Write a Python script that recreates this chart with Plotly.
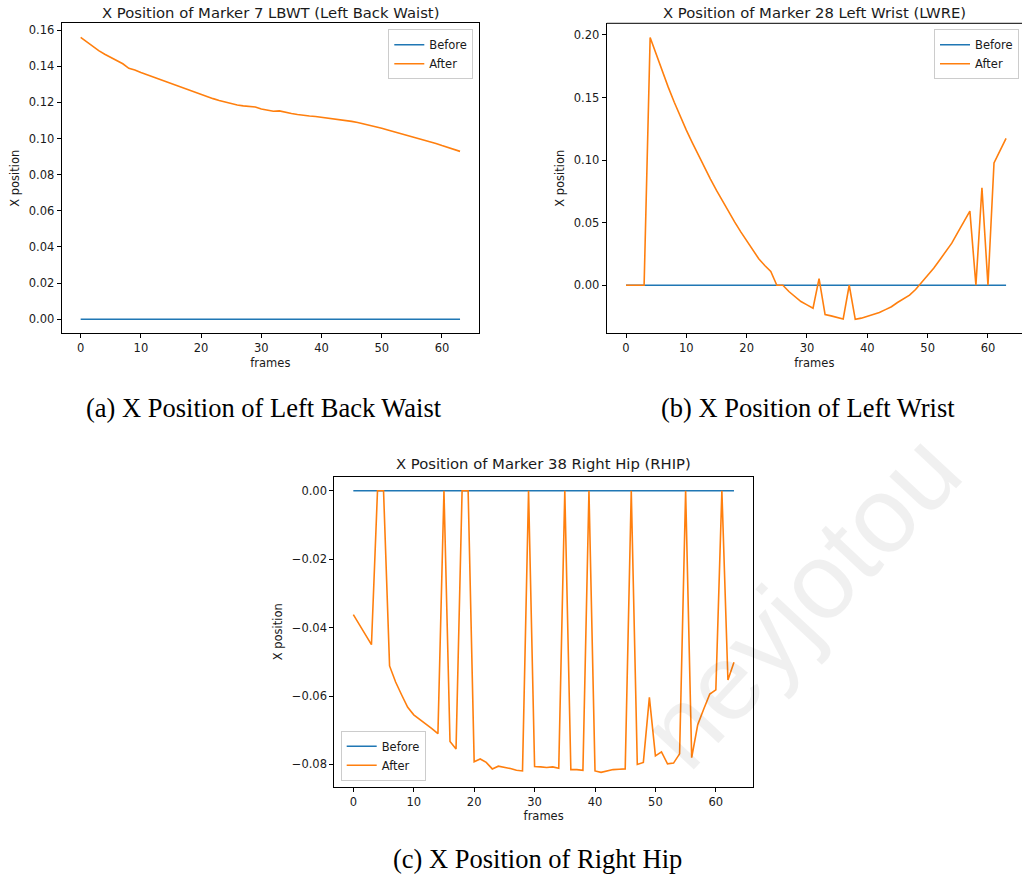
import plotly.graph_objects as go

frames = list(range(64))

before_a = [0.0] * 64
after_a = [0.1560, 0.1534, 0.1509, 0.1487, 0.1467, 0.1448, 0.1431, 0.1414, 0.1389, 0.1380,
           0.1366, 0.1354, 0.1342, 0.1328, 0.1315, 0.1302, 0.1292, 0.1278, 0.1266, 0.1255,
           0.1243, 0.1231, 0.1221, 0.1211, 0.1202, 0.1193, 0.1186, 0.1181, 0.1177, 0.1175,
           0.1164, 0.1158, 0.1151, 0.1153, 0.1144, 0.1139, 0.1133, 0.1127, 0.1125, 0.1122,
           0.1118, 0.1113, 0.1111, 0.1106, 0.1100, 0.1095, 0.1089, 0.1082, 0.1074, 0.1066,
           0.1057, 0.1047, 0.1038, 0.1031, 0.1022, 0.1013, 0.1004, 0.0994, 0.0984, 0.0973,
           0.0961, 0.0950, 0.0938, 0.0929]

before_b = [0.0] * 64
after_b = [0.0, 0.0, 0.0, 0.0, 0.198, 0.1845, 0.1713, 0.1583, 0.1462, 0.1347,
           0.1240, 0.1138, 0.1038, 0.0940, 0.0848, 0.0758, 0.0670, 0.0587, 0.0506, 0.0428,
           0.0355, 0.0280, 0.0212, 0.0158, 0.011, 0.0, 0.0, -0.005, -0.009, -0.013,
           -0.0157, -0.0184, 0.0053, -0.0234, -0.0245, -0.0255, -0.0269, 0.0, -0.0272, -0.0263,
           -0.025, -0.0237, -0.0218, -0.0195, -0.0172, -0.0138, -0.0108, -0.0079, -0.0034, 0.002,
           0.0074, 0.0136, 0.0202, 0.0269, 0.0336, 0.0422, 0.0505, 0.0592, 0.0, 0.0779,
           0.0, 0.0978, 0.1075, 0.1173]

before_c = [0.0] * 64
after_c = [-0.0362, -0.039, -0.0418, -0.045, 0.0, 0.0, -0.0512, -0.0559, -0.0597, -0.0633,
           -0.0655, -0.0668, -0.068, -0.0695, -0.071, 0.0, -0.0733, -0.0755, 0.0, 0.0,
           -0.0792, -0.0784, -0.0794, -0.0813, -0.0805, -0.0808, -0.0812, -0.0817, -0.0819, 0.0,
           -0.0806, -0.0807, -0.0809, -0.0807, -0.0811, 0.0, -0.0815, -0.0815, -0.0817, 0.0,
           -0.0819, -0.0823, -0.0818, -0.0815, -0.0814, -0.0813, 0.0, -0.080, -0.0794, -0.0604,
           -0.0775, -0.0763, -0.0798, -0.0796, -0.0769, 0.0, -0.078, -0.0684, -0.0638, -0.0594,
           -0.0582, 0.0, -0.0553, -0.0501]

titles = ["X Position of Marker 7 LBWT (Left Back Waist)",
          "X Position of Marker 28 Left Wrist (LWRE)",
          "X Position of Marker 38 Right Hip (RHIP)"]
captions = ["(a) X Position of Left Back Waist",
            "(b) X Position of Left Wrist",
            "(c) X Position of Right Hip"]
series_names = ["Before", "After"]
x_label = "frames"
y_label = "X position"

W, H = 1022, 877
BLUE, ORANGE = "#1f77b4", "#ff7f0e"
TXT = "#1a1a1a"

def px(x):
    return x / W

def py(y):
    return 1 - y / H

# panel pixel boxes (left, right, top, bottom)
boxes = [(61.7, 479.0, 23.3, 333.3), (606.7, 1022.0, 23.3, 333.3), (334.3, 753.0, 476.7, 786.7)]
xranges = [[-3.15, 66.15], [-3.2, 65.64], [-3.15, 66.15]]
yranges = [[-0.0078, 0.1638], [-0.0384, 0.2093], [-0.0865, 0.0041]]
ydtick = [0.02, 0.05, 0.02]

fig = go.Figure()
data = [(before_a, after_a), (before_b, after_b), (before_c, after_c)]
legends = ["legend", "legend2", "legend3"]
for i, (bef, aft) in enumerate(data):
    suffix = "" if i == 0 else str(i + 1)
    for name, vals, col in [(series_names[0], bef, BLUE), (series_names[1], aft, ORANGE)]:
        fig.add_trace(go.Scatter(x=frames, y=vals, mode="lines", name=name,
                                 line=dict(color=col, width=1.6),
                                 xaxis="x" + suffix, yaxis="y" + suffix,
                                 legend=legends[i], showlegend=True))

axis_common = dict(showline=True, linecolor="black", linewidth=1, ticks="outside",
                   ticklen=4, tickwidth=1, tickcolor="black", showgrid=False, zeroline=False,
                   tickfont=dict(family="DejaVu Sans", size=11.5, color=TXT))
layout = dict(width=W, height=H, margin=dict(l=0, r=0, t=0, b=0),
              plot_bgcolor="white", paper_bgcolor="white", showlegend=True)
for i, (l, r, t, b) in enumerate(boxes):
    suffix = "" if i == 0 else str(i + 1)
    xa = dict(axis_common, domain=[px(l), px(r)], range=xranges[i], dtick=10, tick0=0,
              anchor="y" + suffix, mirror=(i != 1),
              title=dict(text=x_label, font=dict(family="DejaVu Sans", size=11.5, color=TXT), standoff=4))
    ya = dict(axis_common, domain=[py(b), py(t)], range=yranges[i], dtick=ydtick[i], tick0=0,
              tickformat=".2f", anchor="x" + suffix, mirror=True,
              title=dict(text=y_label, font=dict(family="DejaVu Sans", size=11.5, color=TXT), standoff=6))
    layout["xaxis" + suffix] = xa
    layout["yaxis" + suffix] = ya

leg_common = dict(bgcolor="rgba(255,255,255,0.8)", bordercolor="#cccccc", borderwidth=1,
                  font=dict(family="DejaVu Sans", size=11.5, color=TXT), itemwidth=30,
                  tracegroupgap=0)
layout["legend"] = dict(leg_common, x=px(473.3), xanchor="right", y=py(29.3), yanchor="top")
layout["legend2"] = dict(leg_common, x=px(1019), xanchor="right", y=py(29.3), yanchor="top")
layout["legend3"] = dict(leg_common, x=px(340.7), xanchor="left", y=py(780.7), yanchor="bottom")

fig.update_layout(**layout)

# top border line for panel b (its right edge is clipped in the reference)
fig.add_shape(type="line", xref="x2 domain", yref="y2 domain", x0=0, x1=1, y0=1, y1=1,
              line=dict(color="black", width=1))

annotations = []
title_pos = [(270, 12.5), (814, 12.5), (543.5, 464)]
for (cx, cy), txt in zip(title_pos, titles):
    annotations.append(dict(text=txt, x=px(cx), y=py(cy), xref="paper", yref="paper",
                            showarrow=False, xanchor="center", yanchor="middle",
                            font=dict(family="DejaVu Sans", size=14.8, color=TXT)))
cap_pos = [(264, 408), (808, 408), (537, 859)]
for (cx, cy), txt in zip(cap_pos, captions):
    annotations.append(dict(text=txt, x=px(cx), y=py(cy), xref="paper", yref="paper",
                            showarrow=False, xanchor="center", yanchor="middle",
                            font=dict(family="Liberation Serif", size=26.5, color="black")))
# faint diagonal watermark
annotations.append(dict(text="neyjotou", x=px(800), y=py(600), xref="paper", yref="paper",
                        showarrow=False, textangle=-47, xanchor="center", yanchor="middle",
                        font=dict(family="Liberation Sans", size=108, color="rgba(0,0,0,0.06)")))
fig.update_layout(annotations=annotations)

fig.write_html("out.html", post_script="document.body.style.margin='0px';",
               config={"displayModeBar": False})
